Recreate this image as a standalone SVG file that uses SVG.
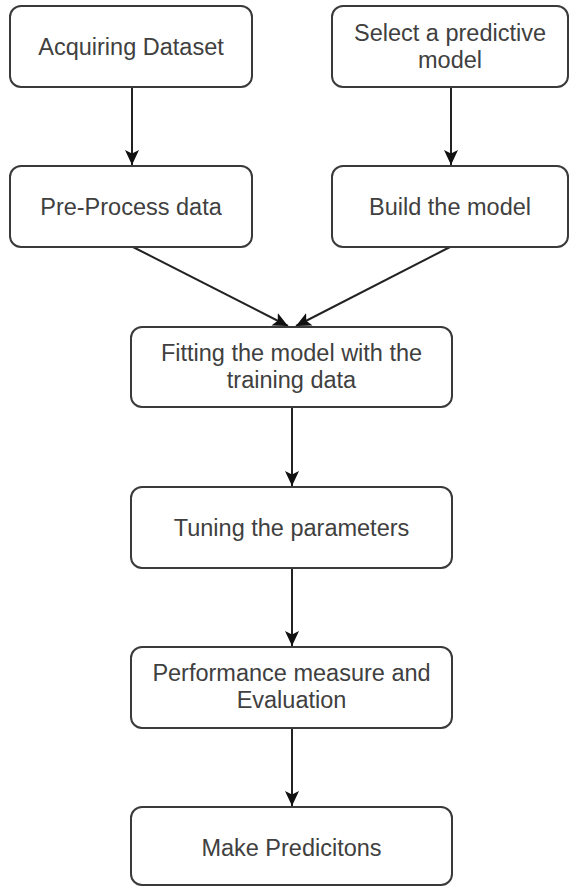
<svg xmlns="http://www.w3.org/2000/svg" width="570" height="886" viewBox="0 0 570 886">
<style>
.box{fill:#ffffff;stroke:#3a3a3a;stroke-width:2}
.lbl{font-family:"Liberation Sans",Arial,sans-serif;font-size:23.5px;fill:#404040;text-anchor:middle}
.edge{stroke:#222;stroke-width:2;fill:none}
</style>
<defs>
<marker id="arr" markerUnits="userSpaceOnUse" markerWidth="16" markerHeight="16" viewBox="0 0 16 16" refX="15" refY="8" orient="auto">
<path d="M0,1 L15,8 L0,15 L3.5,8 z" fill="#111"/>
</marker>
</defs>
<rect width="570" height="886" fill="#ffffff"/>
<g id="connectors">
<line class="edge" x1="132" y1="87" x2="132" y2="165" marker-end="url(#arr)"/>
<line class="edge" x1="451" y1="87" x2="451" y2="165" marker-end="url(#arr)"/>
<line class="edge" x1="133" y1="247" x2="288" y2="326" marker-end="url(#arr)"/>
<line class="edge" x1="450" y1="247" x2="296" y2="326" marker-end="url(#arr)"/>
<line class="edge" x1="292" y1="407" x2="292" y2="486" marker-end="url(#arr)"/>
<line class="edge" x1="292" y1="568" x2="292" y2="646" marker-end="url(#arr)"/>
<line class="edge" x1="292" y1="728" x2="292" y2="806" marker-end="url(#arr)"/>
</g>
<g id="acquiring">
<rect class="box" x="10" y="6" width="242" height="81" rx="11"/>
<text class="lbl" x="131" y="55">Acquiring Dataset</text>
</g>
<g id="select">
<rect class="box" x="332" y="6" width="236" height="81" rx="11"/>
<text class="lbl" x="450" y="41">Select a predictive</text>
<text class="lbl" x="450" y="68">model</text>
</g>
<g id="preprocess">
<rect class="box" x="10" y="166" width="242" height="81" rx="11"/>
<text class="lbl" x="131" y="215">Pre-Process data</text>
</g>
<g id="build">
<rect class="box" x="332" y="166" width="236" height="81" rx="11"/>
<text class="lbl" x="450" y="215">Build the model</text>
</g>
<g id="fitting">
<rect class="box" x="131" y="327" width="321" height="80" rx="11"/>
<text class="lbl" x="291.5" y="361">Fitting the model with the</text>
<text class="lbl" x="291.5" y="388">training data</text>
</g>
<g id="tuning">
<rect class="box" x="131" y="487" width="321" height="81" rx="11"/>
<text class="lbl" x="291.5" y="536">Tuning the parameters</text>
</g>
<g id="performance">
<rect class="box" x="131" y="647" width="321" height="81" rx="11"/>
<text class="lbl" x="291.5" y="681">Performance measure and</text>
<text class="lbl" x="291.5" y="708">Evaluation</text>
</g>
<g id="predictions">
<rect class="box" x="131" y="807" width="321" height="78" rx="11"/>
<text class="lbl" x="291.5" y="856">Make Predicitons</text>
</g>
</svg>
